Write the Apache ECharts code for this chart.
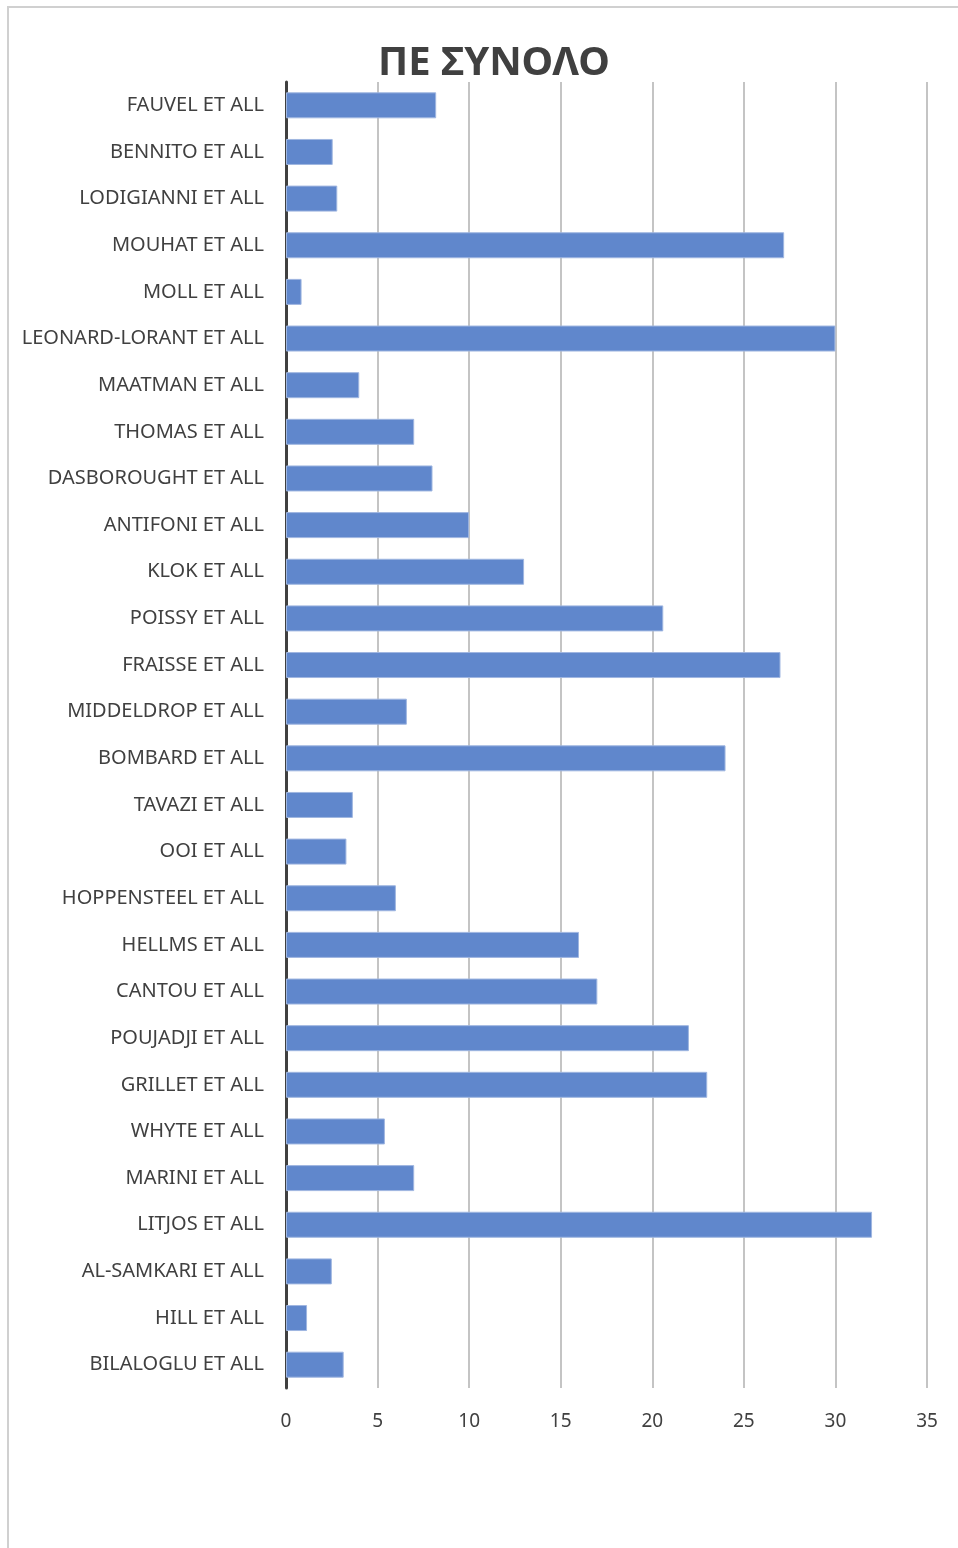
<!DOCTYPE html>
<html>
<head>
<meta charset="utf-8">
<script src="https://cdn.jsdelivr.net/npm/echarts@6/dist/echarts.min.js"></script>
<style>
html,body{margin:0;padding:0;background:#fff;}
#chart{width:958px;height:1548px;}
</style>
</head>
<body>
<div id="chart"></div>
<script>
const titleText = 'ΠΕ ΣΥΝΟΛΟ';
const categories = [
  'FAUVEL ET ALL','BENNITO ET ALL','LODIGIANNI ET ALL','MOUHAT ET ALL','MOLL ET ALL',
  'LEONARD-LORANT ET ALL','MAATMAN ET ALL','THOMAS ET ALL','DASBOROUGHT ET ALL','ANTIFONI ET ALL',
  'KLOK ET ALL','POISSY ET ALL','FRAISSE ET ALL','MIDDELDROP ET ALL','BOMBARD ET ALL',
  'TAVAZI ET ALL','OOI ET ALL','HOPPENSTEEL ET ALL','HELLMS ET ALL','CANTOU ET ALL',
  'POUJADJI ET ALL','GRILLET ET ALL','WHYTE ET ALL','MARINI ET ALL','LITJOS ET ALL',
  'AL-SAMKARI ET ALL','HILL ET ALL','BILALOGLU ET ALL'
];
const values = [
  8.2, 2.55, 2.8, 27.2, 0.85,
  30, 4, 7, 8, 10,
  13, 20.6, 27, 6.6, 24,
  3.65, 3.3, 6, 16, 17,
  22, 23, 5.4, 7, 32,
  2.5, 1.15, 3.15
];
const xMin = 0, xMax = 35, xStep = 5;

const chart = echarts.init(document.getElementById('chart'), null, {renderer:'canvas'});
const font = "'Noto Sans', 'DejaVu Sans', sans-serif";
chart.setOption({
  animation: false,
  backgroundColor: '#ffffff',
  graphic: [{
    type: 'rect', silent: true, z: -10,
    shape: {x: 8, y: 7, width: 1000, height: 1600},
    style: {fill: 'none', stroke: '#d0d0d0', lineWidth: 2}
  }],
  title: {
    text: titleText,
    left: 489, top: 39, textAlign: 'center',
    textStyle: {fontFamily: font, fontSize: 40, fontWeight: 'bold', color: '#404040'}
  },
  grid: {left: 286, right: 31, top: 82, bottom: 160, containLabel: false},
  xAxis: {
    type: 'value', min: xMin, max: xMax, interval: xStep,
    axisLine: {show: false},
    axisTick: {show: false},
    splitLine: {show: true, lineStyle: {color: '#c4c4c4', width: 2}},
    axisLabel: {margin: 24, fontFamily: font, fontSize: 19, color: '#404040'}
  },
  yAxis: {
    type: 'category', data: categories, inverse: true,
    axisLine: {show: true, lineStyle: {color: '#404040', width: 3}},
    axisTick: {show: false},
    axisLabel: {margin: 22, fontFamily: font, fontSize: 20, color: '#404040'}
  },
  series: [{
    type: 'bar', data: values, barWidth: 26, z: 3,
    itemStyle: {color: '#6087cc', borderColor: '#9fb6e0', borderWidth: 1}
  }]
});
</script>
</body>
</html>
